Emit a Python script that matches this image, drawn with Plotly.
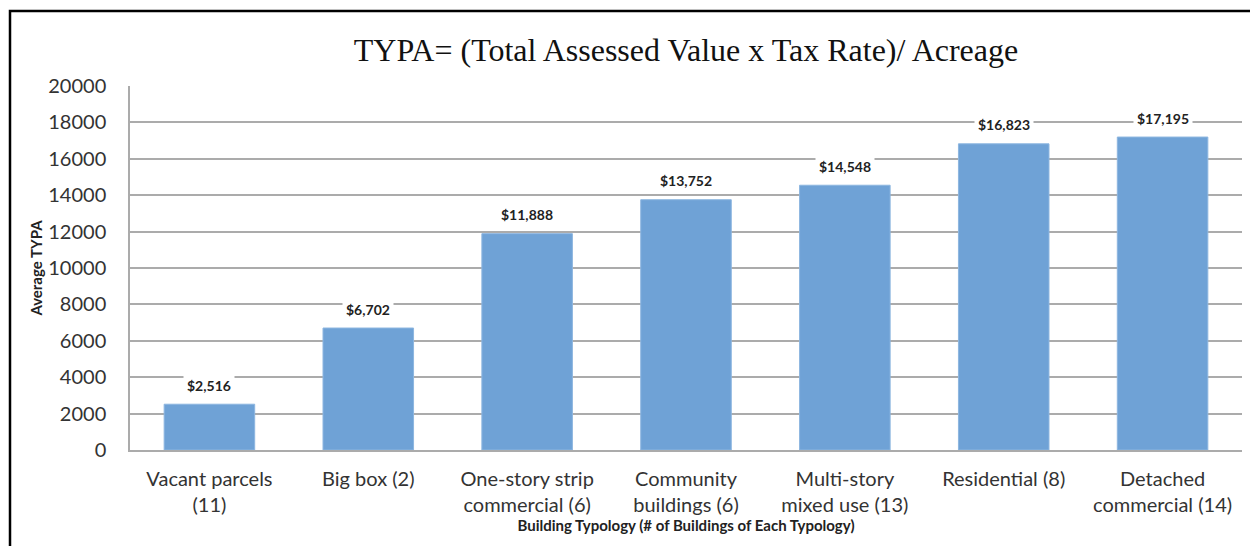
import plotly.graph_objects as go

categories = ["Vacant parcels<br>(11)", "Big box (2)", "One-story strip<br>commercial (6)",
              "Community<br>buildings (6)", "Multi-story<br>mixed use (13)",
              "Residential (8)", "Detached<br>commercial (14)"]
values = [2516, 6702, 11888, 13752, 14548, 16823, 17195]
y_ticks = [0, 2000, 4000, 6000, 8000, 10000, 12000, 14000, 16000, 18000, 20000]

W, H = 1250, 546
ML, MR, MT, MB = 130, 8, 86, 96

fig = go.Figure()
fig.add_trace(go.Bar(
    x=categories, y=values,
    marker=dict(color="#6FA2D6", line=dict(color="#8DB6E0", width=1)),
    width=0.57, hoverinfo="skip"))

for c, v in zip(categories, values):
    fig.add_annotation(x=c, y=v, text="<b>${:,}</b>".format(v), showarrow=False,
                       yshift=19, yanchor="middle", bgcolor="white",
                       font=dict(family="Lato, Open Sans, sans-serif", size=14, color="#222"),
                       borderpad=3)

# outer frame (partially cropped in reference)
fig.add_shape(type="rect", xref="paper", yref="paper",
              x0=(10 - ML) / (W - ML - MR), x1=(1260 - ML) / (W - ML - MR),
              y0=-(560 - (H - MB)) / (H - MT - MB), y1=((H - MB) - 11) / (H - MT - MB),
              line=dict(color="black", width=2.5), layer="below")

fig.update_layout(
    width=W, height=H,
    margin=dict(l=ML, r=MR, t=MT, b=MB),
    plot_bgcolor="white", paper_bgcolor="white",
    showlegend=False,
    title=dict(text="TYPA= (Total Assessed Value x Tax Rate)/ Acreage",
               font=dict(family="Liberation Serif, Times New Roman, serif", size=32, color="#111"),
               x=0.5, xref="paper", xanchor="center", y=1 - 50 / H, yanchor="middle"),
    font=dict(family="Lato, Open Sans, sans-serif", color="#333"),
)
fig.update_yaxes(range=[0, 20000], tickvals=y_ticks, ticktext=[str(t) for t in y_ticks],
                 showgrid=True, gridcolor="#ABABAB", gridwidth=1.5,
                 showline=True, linecolor="#ABABAB", linewidth=1.5,
                 tickfont=dict(size=20, color="#333"), ticklabelstandoff=18,
                 zeroline=False,
                 title=dict(text="<b>Average TYPA</b>", font=dict(size=15, color="#222"), standoff=2))
fig.update_xaxes(showline=True, linecolor="#ABABAB", linewidth=2,
                 tickfont=dict(size=20, color="#333"), ticklabelstandoff=10,
                 title=dict(text="<b>Building Typology (# of Buildings of Each Typology)</b>",
                            font=dict(size=15, color="#222"), standoff=0))

fig.write_html("out.html")
